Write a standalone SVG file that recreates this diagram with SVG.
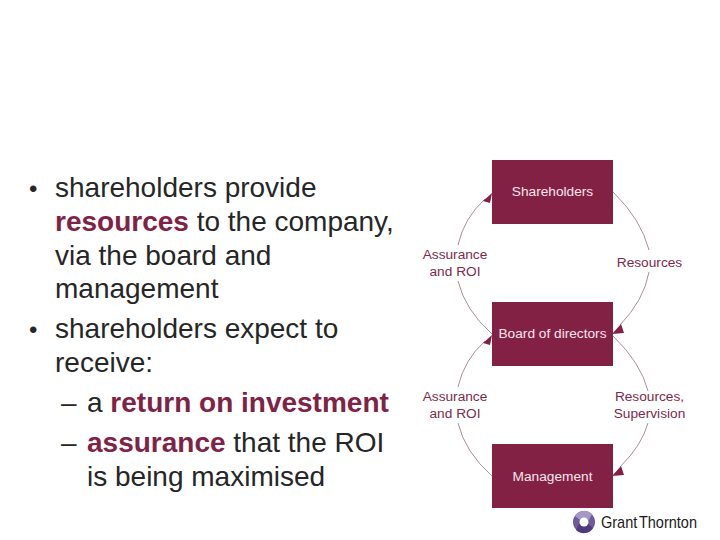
<svg xmlns="http://www.w3.org/2000/svg" width="720" height="540" viewBox="0 0 720 540">
<style>
.body{font-family:"Liberation Sans",Arial,sans-serif;font-size:28px;fill:#262626}
.bullet{font-size:24px}
.em{font-weight:bold;fill:#7f2346}
.node{fill:#832144}
.nt{font-family:"Liberation Sans",Arial,sans-serif;font-size:13.700px;fill:#f7e6ec;text-anchor:middle}
.lb{font-family:"Liberation Sans",Arial,sans-serif;font-size:13.700px;fill:#7d2a4b;text-anchor:middle}
.arc{fill:none;stroke:#a89098;stroke-width:1}
.head{fill:#832144}
</style>
<rect width="720" height="540" fill="#ffffff"/>
<g id="text">
<text class="body bullet" x="29" y="197">•</text>
<text class="body" x="55" y="197">shareholders provide</text>
<text class="body" x="55" y="231"><tspan class="em">resources</tspan> to the company,</text>
<text class="body" x="55" y="265">via the board and</text>
<text class="body" x="55" y="298">management</text>
<text class="body bullet" x="29" y="338">•</text>
<text class="body" x="55" y="338">shareholders expect to</text>
<text class="body" x="55" y="372">receive:</text>
<text class="body" x="61" y="412">–</text>
<text class="body" x="87" y="412">a <tspan class="em">return on investment</tspan></text>
<text class="body" x="61" y="452">–</text>
<text class="body" x="87" y="452"><tspan class="em">assurance</tspan> that the ROI</text>
<text class="body" x="87" y="486">is being maximised</text>
</g>
<g id="connectors">
<path class="arc" d="M613 192 Q641 219 649 250"/>
<path class="arc" d="M649 272 Q644 300 620 325"/>
<path class="head" d="M612 334 L621 324 L624 333 Z"/>
<path class="arc" d="M613 336 Q641 363 648 391"/>
<path class="arc" d="M648 423 Q642 445 620 467"/>
<path class="head" d="M612 476 L621 466 L624 475 Z"/>
<path class="arc" d="M492 334 Q465 310 458 281"/>
<path class="arc" d="M458 245 Q464 218 485 199"/>
<path class="head" d="M492 193 L490 203 L483 201 Z"/>
<path class="arc" d="M492 476 Q465 452 458 423"/>
<path class="arc" d="M458 387 Q464 360 485 341"/>
<path class="head" d="M492 335 L490 345 L483 343 Z"/>
</g>
<g id="label-assurance-1"><text class="lb" x="455" y="259">Assurance</text><text class="lb" x="455" y="276">and ROI</text></g>
<g id="label-resources"><text class="lb" x="649.500" y="267">Resources</text></g>
<g id="label-assurance-2"><text class="lb" x="455" y="401">Assurance</text><text class="lb" x="455" y="418">and ROI</text></g>
<g id="label-resources-supervision"><text class="lb" x="649.500" y="401">Resources,</text><text class="lb" x="649.500" y="418">Supervision</text></g>
<g id="shareholders"><rect class="node" x="492" y="160" width="121" height="64"/><text class="nt" x="552.500" y="196">Shareholders</text></g>
<g id="board"><rect class="node" x="492" y="302" width="121" height="64"/><text class="nt" x="552.500" y="338">Board of directors</text></g>
<g id="management"><rect class="node" x="492" y="444" width="121" height="64"/><text class="nt" x="552.500" y="481">Management</text></g>
<g id="logo">
<circle cx="584" cy="522" r="11" fill="#6f5a9c"/>
<path d="M575 516 A11 11 0 0 1 592 514 L589 520 A6 6 0 0 0 580 520 Z" fill="#a797c4"/>
<path d="M593 528 A11 11 0 0 1 576 530 L579 524 A6 6 0 0 0 588 524 Z" fill="#4f3a7e"/>
<circle cx="584" cy="522" r="4.500" fill="#ffffff"/>
<text x="601" y="528" font-family="'Liberation Sans',Arial,sans-serif" font-size="17" fill="#1a1a1a" word-spacing="-2.500" textLength="96" lengthAdjust="spacingAndGlyphs">Grant Thornton</text>
</g>
</svg>
